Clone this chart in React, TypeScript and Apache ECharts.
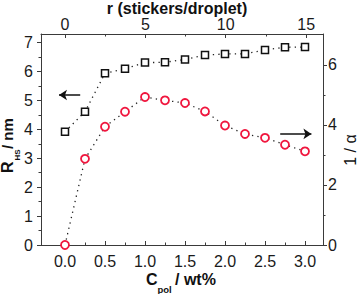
import React, { useEffect, useRef } from "react";
import * as echarts from "echarts";

// Data
const cPol = [0, 0.25, 0.5, 0.75, 1.0, 1.25, 1.5, 1.75, 2.0, 2.25, 2.5, 2.75, 3.0];
const rHs = [3.92, 4.61, 5.94, 6.1, 6.31, 6.32, 6.42, 6.57, 6.61, 6.61, 6.75, 6.84, 6.85];
const invAlpha = [0, 2.87, 3.94, 4.44, 4.93, 4.82, 4.73, 4.45, 3.98, 3.7, 3.57, 3.34, 3.12];

const xMajor = [0, 0.5, 1.0, 1.5, 2.0, 2.5, 3.0];
const xMinor = [0.25, 0.75, 1.25, 1.75, 2.25, 2.75];
const rMajor = [0, 5, 10, 15];
const rMinor = [2.5, 7.5, 12.5];
const yLeftMajor = [0, 1, 2, 3, 4, 5, 6, 7];
const yLeftMinor = [0.5, 1.5, 2.5, 3.5, 4.5, 5.5, 6.5];
const yRightMajor = [0, 2, 4, 6];
const yRightMinor = [1, 3, 5];

const FONT = '"Liberation Sans", Arial, sans-serif';
const AX = "#3a3a3a";
const LBL = "#1a1a1a";

function majorAxis(position: string, min: number, max: number, values: number[], inside: boolean, margin: number, fmt?: (v: number) => string, lineHeight?: number) {
  return {
    type: "value",
    position,
    min,
    max,
    axisLine: { show: true, onZero: false, lineStyle: { color: AX, width: 1 } },
    axisTick: { show: true, inside, length: 4, customValues: values, lineStyle: { color: AX, width: 1 } },
    axisLabel: {
      show: true,
      customValues: values,
      margin,
      fontSize: 16,
      lineHeight: lineHeight || 16,
      color: LBL,
      fontFamily: FONT,
      formatter: fmt || ((v: number) => String(v)),
    },
    splitLine: { show: false },
  };
}

function minorAxis(position: string, min: number, max: number, values: number[], inside: boolean) {
  return {
    type: "value",
    position,
    min,
    max,
    axisLine: { show: false, onZero: false },
    axisTick: { show: true, inside, length: 2.5, customValues: values, lineStyle: { color: AX, width: 1 } },
    axisLabel: { show: false },
    splitLine: { show: false },
  };
}

export default function App() {
  const ref = useRef<HTMLDivElement>(null);
  useEffect(() => {
    if (!ref.current) return;
    const chart = echarts.init(ref.current, undefined, { renderer: "svg" });
    const xMin = -0.3;
    const xMax = 3.225;
    const rMin = -1.49;
    const rMax = 16.05;
    const dotted = { color: "#222", width: 1.3, type: [1.3, 4.2] as any };
    const txt = (text: string, font: string, align = "left") => ({
      text,
      font,
      fill: "#111",
      textAlign: align,
      textVerticalAlign: "middle",
      align,
      verticalAlign: "middle",
    });
    chart.setOption({
      animation: false,
      backgroundColor: "#fff",
      textStyle: { fontFamily: FONT },
      grid: { left: 41, top: 34, width: 282, height: 211, containLabel: false },
      xAxis: [
        majorAxis("bottom", xMin, xMax, xMajor, true, 8, (v: number) => v.toFixed(1)),
        minorAxis("bottom", xMin, xMax, xMinor, true),
        majorAxis("top", rMin, rMax, rMajor, true, 3, undefined, 13),
        minorAxis("top", rMin, rMax, rMinor, true),
      ],
      yAxis: [
        majorAxis("left", 0, 7.3, yLeftMajor, false, 8),
        minorAxis("left", 0, 7.3, yLeftMinor, false),
        majorAxis("right", 0, 7.03, yRightMajor, false, 5),
        minorAxis("right", 0, 7.03, yRightMinor, false),
      ],
      series: [
        {
          type: "line",
          xAxisIndex: 0,
          yAxisIndex: 0,
          data: cPol.map((c, i) => [c, rHs[i]]),
          symbol: "rect",
          symbolSize: 7,
          showAllSymbol: true,
          itemStyle: { color: "#fff", borderColor: "#111", borderWidth: 1.5 },
          lineStyle: dotted,
          z: 3,
          markLine: {
            silent: true,
            symbol: ["none", "arrow"],
            symbolSize: 8,
            label: { show: false },
            lineStyle: { type: "solid", color: "#111", width: 1.5 },
            data: [[{ coord: [0.19, 5.19] }, { coord: [-0.075, 5.19] }]],
          },
        },
        {
          type: "line",
          xAxisIndex: 0,
          yAxisIndex: 2,
          data: cPol.map((c, i) => [c, invAlpha[i]]),
          symbol: "circle",
          symbolSize: 8,
          showAllSymbol: true,
          itemStyle: { color: "#fff", borderColor: "#f0163e", borderWidth: 1.8 },
          lineStyle: dotted,
          z: 3,
          markLine: {
            silent: true,
            symbol: ["none", "arrow"],
            symbolSize: 8,
            label: { show: false },
            lineStyle: { type: "solid", color: "#111", width: 1.5 },
            data: [[{ coord: [2.69, 3.7] }, { coord: [3.08, 3.7] }]],
          },
        },
      ],
      graphic: [
        {
          type: "text",
          x: 177,
          y: 8,
          style: { ...txt("r (stickers/droplet)", `bold 16px ${FONT}`, "center"), lineHeight: 15 },
        },
        {
          type: "group",
          x: 7.5,
          y: 173,
          rotation: Math.PI / 2,
          children: [
            { type: "text", x: 0, y: 0, style: txt("R", `bold 16px ${FONT}`) },
            { type: "text", x: 12.5, y: 9.5, style: txt("HS", `bold 8px ${FONT}`) },
            { type: "text", x: 24, y: 0, style: txt("/ nm", `bold 15px ${FONT}`) },
          ],
        },
        {
          type: "group",
          x: 350,
          y: 150,
          rotation: Math.PI / 2,
          children: [{ type: "text", x: 0, y: 0, style: txt("1 / α", `16px ${FONT}`, "center") }],
        },
        { type: "text", x: 146, y: 279, style: txt("C", `bold 16px ${FONT}`) },
        { type: "text", x: 157.5, y: 289.5, style: txt("pol", `bold 9.5px ${FONT}`) },
        { type: "text", x: 175, y: 279, style: txt("/ wt%", `bold 16px ${FONT}`) },
      ],
    });
    return () => chart.dispose();
  }, []);
  return <div ref={ref} style={{ position: "absolute", left: 0, top: 0, width: 357, height: 294 }} />;
}
